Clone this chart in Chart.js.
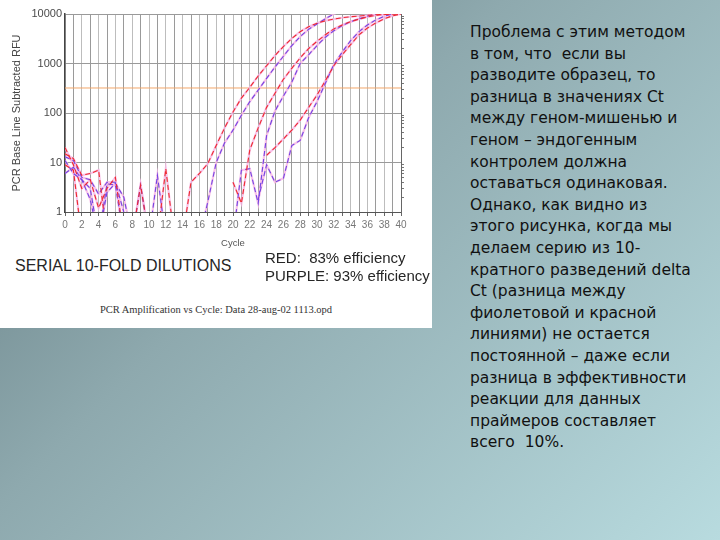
<!DOCTYPE html>
<html>
<head>
<meta charset="utf-8">
<script src="https://cdn.jsdelivr.net/npm/chart.js@4.4.0/dist/chart.umd.min.js"></script>
<style>
    body {
        margin: 0;
        width: 720px;
        height: 540px;
        overflow: hidden;
        position: relative;
        background: linear-gradient(135deg, #627a80 0%, #8ea9ae 40%, #b8dbdf 100%);
        font-family: 'Liberation Sans', Arial, sans-serif;
    }
    #panneau { position: absolute; left: 0; top: 0; width: 432px; height: 328px; background: #fff; }
    #graphique_pcr { position: absolute; left: 0; top: 0; }
    .note { position: absolute; color: #262626; white-space: nowrap; }
    #serie { left: 15px; top: 257px; font-size: 16px; }
    #efficacite { left: 265px; top: 249px; font-size: 15px; line-height: 18px; }
    #legende { left: 0; width: 432px; text-align: center; top: 304px; font-family: 'Liberation Serif', serif; font-size: 10.5px; color: #333; }
    #texte {
        position: absolute; left: 470px; top: 22px;
        font-family: 'DejaVu Sans', sans-serif; font-size: 15.5px; line-height: 21.6px;
        color: #111; white-space: nowrap;
    }
</style>
</head>
<body>
<div id="panneau">
    <canvas id="graphique_pcr" width="432" height="252"></canvas>
    <div class="note" id="serie">SERIAL 10-FOLD DILUTIONS</div>
    <div class="note" id="efficacite">RED:&nbsp; 83% efficiency<br>PURPLE: 93% efficiency</div>
    <div class="note" id="legende">PCR Amplification vs Cycle: Data 28-aug-02 1113.opd</div>
</div>
<div id="texte">
Проблема с этим методом<br>
в том, что&nbsp; если вы<br>
разводите образец, то<br>
разница в значениях Ct<br>
между геном-мишенью и<br>
геном – эндогенным<br>
контролем должна<br>
оставаться одинаковая.<br>
Однако, как видно из<br>
этого рисунка, когда мы<br>
делаем серию из 10-<br>
кратного разведений delta<br>
Ct (разница между<br>
фиолетовой и красной<br>
линиями) не остается<br>
постоянной – даже если<br>
разница в эффективности<br>
реакции для данных<br>
праймеров составляет<br>
всего&nbsp; 10%.
</div>
<script>
const cycles = [0, 1, 2, 3, 4, 5, 6, 7, 8, 9, 10, 11, 12, 13, 14, 15, 16, 17, 18, 19, 20,
    21, 22, 23, 24, 25, 26, 27, 28, 29, 30, 31, 32, 33, 34, 35, 36, 37, 38, 39, 40];

// RFU par cycle, 0.3 = sous l'axe, null = pas de trace
const rouge1 = [20, 9, 3, 4.5, 1.2, 3, 5, 0.3, 0.3, 3.5, 0.3, 0.3, 7.5, 0.3, 0.3, 4, 6, 9.5, 22, 50,
    105, 200, 330, 560, 900, 1450, 2200, 3200, 4400, 5500, 6500, 7300, 7900, 8400, 8800, 9100, 9400, 9650, 9850, 10000, 10000];
const rouge2 = [15, 12, 5.5, 6, 7, 0.3, null, null, null, null, null, null, null, null, null, null, null, null, null, null,
    4, 1.5, 18, 50, 130, 250, 480, 800, 1300, 2000, 2800, 3800, 5000, 6000, 7000, 7900, 8700, 9400, 9800, 10000, 10000];
const rouge3 = [9, 7, 0.3, null, null, null, null, null, null, null, null, null, null, null, null, null, null, null, null, null,
    null, null, null, null, 14, 20, 30, 45, 72, 130, 230, 450, 900, 1500, 2400, 3800, 5200, 6600, 8000, 9200, 10000];
const violet1 = [13, 11, 5, 4.5, 2.3, 4, 4, 1, 0.3, 3.5, 0.3, 5.5, 0.3, 0.3, 0.3, 0.3, 0.3, 1.6, 10, 25,
    45, 90, 170, 290, 500, 850, 1400, 2300, 3500, 4900, 6300, 8000, 10000, 12000, null, null, null, null, null, null, null];
const violet2 = [6, 8, 4.5, 1.8, 0.3, 2.5, 3.8, 2, 0.3, null, null, null, null, null, null, null, null, null, null, null,
    0.3, 7, 7.5, 1.5, 35, 110, 220, 420, 1000, 1500, 2300, 3400, 4600, 5800, 7000, 8000, 9000, 10000, 11000, null, null];
const violet3 = [11, 6, 4.5, 3, 0.3, 3.7, 3.5, 0.3, null, null, null, null, null, null, null, null, null, null, null, null,
    null, null, null, 1.8, 9, 4, 4.8, 22, 28, 80, 170, 400, 950, 1700, 2900, 4400, 6000, 7600, 9000, 10000, 10500];
const seuil = 320;
const yTicks = [1, 10, 100, 1000, 10000];

const ROUGE = '#ee2a2e';
const VIOLET = '#7444e4';
const ROSE = 'rgba(246, 180, 228, 0.8)';

function points(valeurs) {
    return cycles.map((c, i) => ({ x: c, y: valeurs[i] }));
}

// order plus petit = dessiné par-dessus
function trace(valeurs, couleur) {
    return {
        data: points(valeurs),
        borderColor: couleur,
        borderWidth: 1.1,
        borderDash: [5, 3],
        pointRadius: 0,
        tension: 0,
        fill: false,
        order: 0
    };
}

function halo(valeurs) {
    return {
        data: points(valeurs),
        borderColor: ROSE,
        borderWidth: 2.2,
        pointRadius: 0,
        tension: 0,
        fill: false,
        order: 1
    };
}

const series = [[rouge1, ROUGE], [rouge2, ROUGE], [rouge3, ROUGE], [violet1, VIOLET], [violet2, VIOLET], [violet3, VIOLET]];

const mineurs = [];
yTicks.slice(0, -1).forEach(d => { for (let m = 2; m <= 9; m++) mineurs.push(d * m); });

const datasets = [{
    data: [{ x: cycles[0], y: seuil }, { x: cycles[cycles.length - 1], y: seuil }],
    borderColor: '#f2a66a',
    borderWidth: 1,
    pointRadius: 0,
    order: 2
}];
series.forEach(s => datasets.push(halo(s[0])));
series.forEach(s => datasets.push(trace(s[0], s[1])));

const policeAxe = 'Liberation Sans';

new Chart(document.getElementById('graphique_pcr').getContext('2d'), {
    type: 'line',
    data: { datasets: datasets },
    options: {
        responsive: false,
        animation: false,
        devicePixelRatio: 1,
        layout: { padding: { top: 14, left: 0, right: 0, bottom: 0 } },
        plugins: { legend: { display: false }, tooltip: { enabled: false } },
        scales: {
            x: {
                type: 'linear',
                min: 0,
                max: 40,
                afterBuildTicks: scale => { scale.ticks = cycles.map(c => ({ value: c })); },
                afterFit: scale => { scale.height = 40; },
                ticks: {
                    autoSkip: false,
                    maxRotation: 0,
                    padding: 3,
                    color: '#777',
                    font: { family: policeAxe, size: 10 },
                    callback: v => (v % 2 === 0 ? String(v) : '')
                },
                grid: {
                    color: ctx => (ctx.tick && ctx.tick.value % 2 === 1 ? '#9a9a9a' : '#bdbdbd'),
                    tickLength: 4,
                    tickColor: '#666'
                },
                border: { color: '#555' },
                title: {
                    display: true,
                    text: 'Cycle',
                    color: '#555',
                    font: { family: policeAxe, size: 9.5 },
                    padding: { top: 0, bottom: 3 }
                }
            },
            y: {
                type: 'logarithmic',
                position: 'left',
                min: 1,
                max: 10000,
                afterBuildTicks: scale => { scale.ticks = yTicks.map(v => ({ value: v })); },
                afterFit: scale => { scale.width = 65; },
                ticks: {
                    padding: 3,
                    color: '#4a4a4a',
                    font: { family: policeAxe, size: 11 },
                    callback: v => String(v)
                },
                grid: { color: '#9a9a9a', drawTicks: false },
                border: { color: '#444', width: 1.5 },
                title: {
                    display: true,
                    text: 'PCR Base Line Subtracted RFU',
                    color: '#444',
                    font: { family: policeAxe, size: 11 },
                    padding: { top: 10, bottom: 0 }
                }
            },
            y2: {
                type: 'logarithmic',
                position: 'right',
                min: 1,
                max: 10000,
                afterBuildTicks: scale => { scale.ticks = mineurs.map(v => ({ value: v })); },
                afterFit: scale => { scale.width = 31; },
                ticks: { display: false },
                grid: { drawOnChartArea: false, tickLength: 3, color: '#777' },
                border: { color: '#666' }
            }
        }
    }
});
</script>
</body>
</html>
